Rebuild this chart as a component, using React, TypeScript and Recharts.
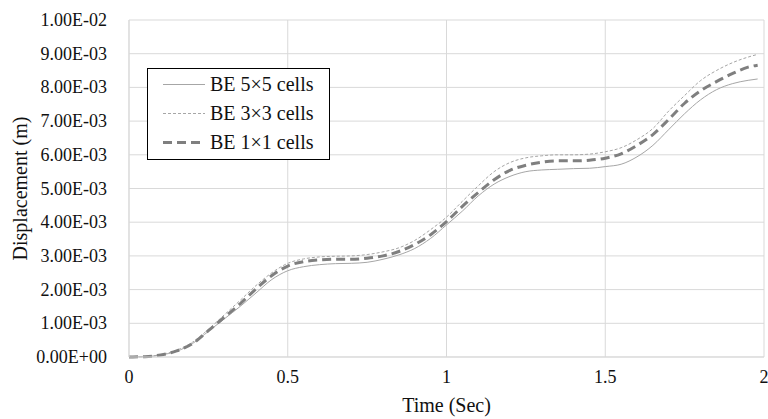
import { LineChart, Line, XAxis, YAxis, CartesianGrid, Legend } from "recharts";

// time in seconds
const time = [
  0, 0.05, 0.1, 0.15, 0.2, 0.25, 0.3, 0.35, 0.4, 0.45, 0.5, 0.55, 0.6, 0.65, 0.7, 0.75, 0.8,
  0.85, 0.9, 0.95, 1.0, 1.05, 1.1, 1.15, 1.2, 1.25, 1.3, 1.35, 1.4, 1.45, 1.5, 1.55, 1.6,
  1.65, 1.7, 1.75, 1.8, 1.85, 1.9, 1.95, 1.98,
];

// displacements in mm (x 1E-3 m)
const be5x5 = [
  0, 0.01, 0.06, 0.17, 0.4, 0.76, 1.13, 1.5, 1.9, 2.3, 2.56, 2.68, 2.74, 2.77, 2.78, 2.81, 2.9,
  3.03, 3.22, 3.52, 3.92, 4.33, 4.78, 5.13, 5.36, 5.5, 5.55, 5.57, 5.59, 5.6, 5.65, 5.72, 5.94,
  6.28, 6.75, 7.22, 7.63, 7.93, 8.11, 8.21, 8.25,
];
const be3x3 = [
  0, 0.01, 0.07, 0.2, 0.44, 0.82, 1.25, 1.68, 2.12, 2.5, 2.78, 2.91, 2.97, 2.99, 3.0, 3.04, 3.12,
  3.24, 3.46, 3.78, 4.15, 4.62, 5.08, 5.5, 5.77, 5.91, 5.97, 6.0, 6.0, 6.02, 6.09, 6.21, 6.45,
  6.78, 7.3, 7.76, 8.2, 8.5, 8.73, 8.9, 8.98,
];
const be1x1 = [
  0, 0.01, 0.06, 0.18, 0.4, 0.78, 1.18, 1.58, 2.02, 2.42, 2.7, 2.83, 2.88, 2.9, 2.9, 2.93, 3.0,
  3.13, 3.34, 3.63, 4.02, 4.47, 4.88, 5.26, 5.54, 5.69, 5.78, 5.82, 5.82, 5.84, 5.9, 6.03, 6.28,
  6.6, 7.05, 7.53, 7.9, 8.17, 8.41, 8.6, 8.66,
];

const xTicks = [0, 0.5, 1, 1.5, 2];
const yTicks = [0, 1, 2, 3, 4, 5, 6, 7, 8, 9, 10];

const data = time.map((t, i) => ({
  t,
  a: be5x5[i],
  b: be3x3[i],
  c: be1x1[i],
}));

const FONT = "'Liberation Serif', 'Times New Roman', serif";
const GRID = "#d9d9d9";

// 1 -> "1.00E-03", 0 -> "0.00E+00"
function sci(mm: number) {
  const v = mm / 1000;
  if (v === 0) return "0.00E+00";
  const [m, e] = v.toExponential(2).split("e");
  const n = parseInt(e, 10);
  const sign = n < 0 ? "-" : "+";
  return `${m}E${sign}${String(Math.abs(n)).padStart(2, "0")}`;
}

function XTick(props: any) {
  const { x, y, payload } = props;
  return (
    <text x={x} y={y + 13} textAnchor="middle" dominantBaseline="hanging"
      style={{ fontFamily: FONT, fontSize: 18, fill: "#111" }}>
      {String(payload.value)}
    </text>
  );
}

function YTick(props: any) {
  const { x, y, payload } = props;
  return (
    <text x={x - 4} y={y} textAnchor="end" dominantBaseline="central"
      style={{ fontFamily: FONT, fontSize: 18, fill: "#111" }}>
      {sci(payload.value)}
    </text>
  );
}

const legendRows = [
  { name: "BE 5×5 cells", stroke: "#a6a6a6", width: 1, dash: undefined as string | undefined },
  { name: "BE 3×3 cells", stroke: "#a6a6a6", width: 1, dash: "3 2" },
  { name: "BE 1×1 cells", stroke: "#7f7f7f", width: 3, dash: "9 5" },
];

function LegendBox() {
  return (
    <div
      style={{
        width: 183,
        height: 92,
        boxSizing: "border-box",
        border: "1px solid #000",
        background: "#fff",
        paddingTop: 1,
        fontFamily: FONT,
        fontSize: 20,
        color: "#111",
      }}
    >
      {legendRows.map((r) => (
        <div key={r.name} style={{ display: "flex", alignItems: "center", height: 29 }}>
          <svg width={58} height={29} style={{ display: "block" }}>
            <line
              x1={15}
              x2={57}
              y1={14.5}
              y2={14.5}
              stroke={r.stroke}
              strokeWidth={r.width}
              strokeDasharray={r.dash}
            />
          </svg>
          <span style={{ marginLeft: 4, lineHeight: "29px", whiteSpace: "nowrap" }}>{r.name}</span>
        </div>
      ))}
    </div>
  );
}

export default function App() {
  return (
    <div style={{ position: "absolute", left: 0, top: 0, background: "#fff" }}>
      <LineChart width={768} height={419} data={data} margin={{ top: 20, right: 4, bottom: 0, left: 0 }}>
        <CartesianGrid stroke={GRID} strokeWidth={1} />
        <XAxis
          dataKey="t"
          type="number"
          domain={[0, 2]}
          ticks={xTicks}
          height={62}
          axisLine={{ stroke: GRID }}
          tickLine={false}
          tickMargin={0}
          tickSize={0}
          tick={<XTick />}
          label={{
            value: "Time (Sec)",
            position: "insideBottom",
            offset: 7,
            fill: "#111",
            fontSize: 20,
            fontFamily: FONT,
          }}
        />
        <YAxis
          type="number"
          domain={[0, 10]}
          ticks={yTicks}
          width={129}
          axisLine={{ stroke: GRID }}
          tickLine={false}
          tickMargin={12}
          tick={<YTick />}
          label={{
            value: "Displacement (m)",
            angle: -90,
            position: "insideLeft",
            offset: 20,
            style: { textAnchor: "middle" },
            fill: "#111",
            fontSize: 20,
            fontFamily: FONT,
          }}
        />
        <Legend
          layout="vertical"
          align="center"
          verticalAlign="middle"
          content={() => <LegendBox />}
          wrapperStyle={{ left: 147, top: 68, width: 183, height: 92 }}
        />
        <Line
          type="monotone"
          dataKey="a"
          name="BE 5×5 cells"
          stroke="#a6a6a6"
          strokeWidth={1}
          dot={false}
          isAnimationActive={false}
        />
        <Line
          type="monotone"
          dataKey="b"
          name="BE 3×3 cells"
          stroke="#a6a6a6"
          strokeWidth={1}
          strokeDasharray="3 2"
          dot={false}
          isAnimationActive={false}
        />
        <Line
          type="monotone"
          dataKey="c"
          name="BE 1×1 cells"
          stroke="#7f7f7f"
          strokeWidth={3}
          strokeDasharray="9 5"
          dot={false}
          isAnimationActive={false}
        />
      </LineChart>
    </div>
  );
}
